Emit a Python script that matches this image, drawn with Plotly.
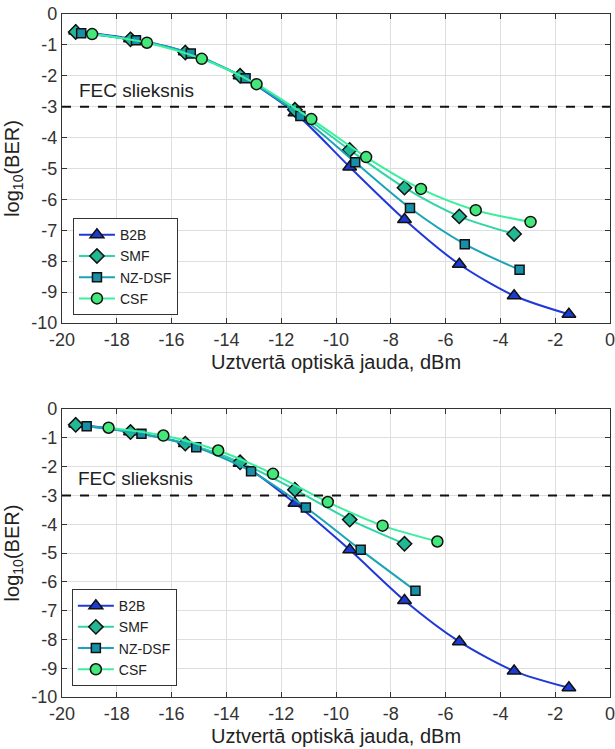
import plotly.graph_objects as go
from plotly.subplots import make_subplots

# ---------- data: top panel ----------
top_b2b_x = [-19.5, -17.5, -15.5, -13.5, -11.5, -9.5, -7.5, -5.5, -3.5, -1.5]
top_b2b_y = [-0.55, -0.8, -1.22, -2.0, -3.2, -4.95, -6.65, -8.1, -9.12, -9.72]
top_smf_x = [-19.5, -17.5, -15.5, -13.5, -11.5, -9.5, -7.5, -5.5, -3.5]
top_smf_y = [-0.58, -0.82, -1.25, -2.0, -3.1, -4.4, -5.62, -6.55, -7.12]
top_nz_x = [-19.3, -17.3, -15.3, -13.3, -11.3, -9.3, -7.3, -5.3, -3.3]
top_nz_y = [-0.62, -0.85, -1.28, -2.08, -3.3, -4.8, -6.28, -7.45, -8.28]
top_csf_x = [-18.9, -16.9, -14.9, -12.9, -10.9, -8.9, -6.9, -4.9, -2.9]
top_csf_y = [-0.65, -0.93, -1.45, -2.27, -3.4, -4.63, -5.66, -6.35, -6.73]

# ---------- data: bottom panel ----------
bot_b2b_x = [-19.5, -17.5, -15.5, -13.5, -11.5, -9.5, -7.5, -5.5, -3.5, -1.5]
bot_b2b_y = [-0.52, -0.79, -1.2, -1.88, -3.27, -4.89, -6.65, -8.08, -9.1, -9.68]
bot_smf_x = [-19.5, -17.5, -15.5, -13.5, -11.5, -9.5, -7.5]
bot_smf_y = [-0.55, -0.8, -1.2, -1.85, -2.8, -3.84, -4.68]
bot_nz_x = [-19.1, -17.1, -15.1, -13.1, -11.1, -9.1, -7.1]
bot_nz_y = [-0.6, -0.86, -1.33, -2.16, -3.42, -4.89, -6.31]
bot_csf_x = [-18.3, -16.3, -14.3, -12.3, -10.3, -8.3, -6.3]
bot_csf_y = [-0.65, -0.92, -1.44, -2.25, -3.23, -4.05, -4.6]

series_names = ["B2B", "SMF", "NZ-DSF", "CSF"]
x_ticks = [-20, -18, -16, -14, -12, -10, -8, -6, -4, -2, 0]
x_tick_text = ["-20", "-18", "-16", "-14", "-12", "-10", "-8", "-6", "-4", "-2", "0"]
y_ticks = [0, -1, -2, -3, -4, -5, -6, -7, -8, -9, -10]
y_tick_text = ["0", "-1", "-2", "-3", "-4", "-5", "-6", "-7", "-8", "-9", "-10"]
fec_level = -3
fec_label = "FEC slieksnis"
x_title = "Uztvertā optiskā jauda, dBm"
y_title = "log<sub>10</sub>(BER)"

line_colors = ["#2038d8", "#2fd6a4", "#1aa4b6", "#3cef9e"]
fill_colors = ["#1c3ccf", "#22b893", "#1690a8", "#44e87a"]
symbols = ["triangle-up", "diamond", "square", "circle"]
sizes = [12, 11, 9, 11]

FONT = "Liberation Sans, Arial, sans-serif"

fig = make_subplots(rows=2, cols=1, vertical_spacing=0.126,
                    row_heights=[309, 288])

panels = [
    (1, "legend", [(top_b2b_x, top_b2b_y), (top_smf_x, top_smf_y),
                   (top_nz_x, top_nz_y), (top_csf_x, top_csf_y)]),
    (2, "legend2", [(bot_b2b_x, bot_b2b_y), (bot_smf_x, bot_smf_y),
                    (bot_nz_x, bot_nz_y), (bot_csf_x, bot_csf_y)]),
]

for row, leg, data in panels:
    for i, (xs, ys) in enumerate(data):
        fig.add_trace(go.Scatter(
            x=xs, y=ys, name=series_names[i], mode="lines+markers",
            line=dict(color=line_colors[i], width=2, shape="spline", smoothing=0.8),
            marker=dict(symbol=symbols[i], size=sizes[i], color=fill_colors[i],
                        line=dict(color="#111111", width=1.5)),
            legend=leg, showlegend=True,
        ), row=row, col=1)
    fig.add_hline(y=fec_level, line=dict(color="#111111", width=2, dash="dash"),
                  row=row, col=1)

fig.add_annotation(x=-19.45, y=-2.47, xref="x", yref="y", text=fec_label,
                   showarrow=False, xanchor="left", yanchor="middle",
                   font=dict(family=FONT, size=19, color="#222222"))
fig.add_annotation(x=-19.5, y=-2.4, xref="x2", yref="y2", text=fec_label,
                   showarrow=False, xanchor="left", yanchor="middle",
                   font=dict(family=FONT, size=19, color="#222222"))

axis_common = dict(showline=True, linecolor="#333333", linewidth=1.2, mirror="ticks",
                   ticks="inside", ticklen=5, tickcolor="#333333",
                   showgrid=True, gridcolor="#dedede", gridwidth=1, zeroline=False,
                   ticklabeloverflow="allow", automargin=False,
                   tickfont=dict(family=FONT, size=18, color="#333333"))

for r in (1, 2):
    fig.update_xaxes(range=[-20, 0], tickvals=x_ticks, ticktext=x_tick_text, **axis_common,
                     title=dict(text=x_title, standoff=6,
                                font=dict(family=FONT, size=20, color="#222222")),
                     row=r, col=1)
    fig.update_yaxes(range=[-10, 0], tickvals=y_ticks, ticktext=y_tick_text, **axis_common,
                     title=dict(text=y_title, standoff=6,
                                font=dict(family=FONT, size=20, color="#222222")),
                     row=r, col=1)

legend_style = dict(bgcolor="white", bordercolor="#333333", borderwidth=1,
                    font=dict(family=FONT, size=14, color="#222222"),
                    xanchor="left", yanchor="bottom", tracegroupgap=0,
                    itemwidth=36)

fig.update_layout(
    width=615, height=749,
    margin=dict(l=62, r=5, t=14, b=52),
    plot_bgcolor="white", paper_bgcolor="white",
    font=dict(family=FONT, color="#222222"),
    legend=dict(x=0.02, y=0.559, **legend_style),
    legend2=dict(x=0.018, y=0.016, **legend_style),
)

fig.write_html("out.html")
